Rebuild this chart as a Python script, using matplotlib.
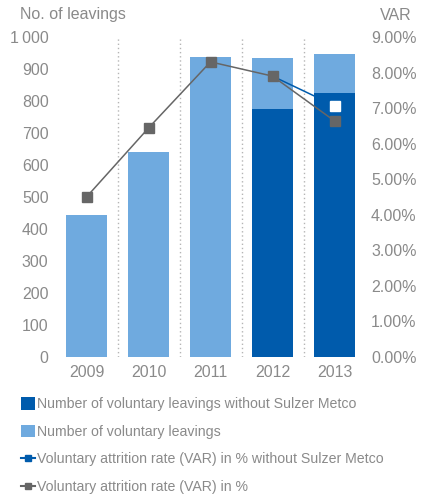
import matplotlib
matplotlib.use("Agg")
import matplotlib.pyplot as plt
import numpy as np
from matplotlib.lines import Line2D
from matplotlib.patches import Patch

years = ["2009", "2010", "2011", "2012", "2013"]
leavings_total = [444, 640, 938, 935, 947]
leavings_wo_metco = [np.nan, np.nan, np.nan, 775, 826]
var_total = [4.50, 6.44, 8.30, 7.90, 6.64]
var_wo_metco = [np.nan, np.nan, np.nan, 7.90, 7.07]
left_ticks = [0, 100, 200, 300, 400, 500, 600, 700, 800, 900, 1000]
left_labels = ["0", "100", "200", "300", "400", "500", "600", "700", "800", "900", "1\u2009000"]
right_ticks = [0, 1, 2, 3, 4, 5, 6, 7, 8, 9]
right_labels = ["0.00%", "1.00%", "2.00%", "3.00%", "4.00%", "5.00%", "6.00%", "7.00%", "8.00%", "9.00%"]
legend_labels = [
    "Number of voluntary leavings without Sulzer Metco",
    "Number of voluntary leavings",
    "Voluntary attrition rate (VAR) in % without Sulzer Metco",
    "Voluntary attrition rate (VAR) in %",
]

DARK = "#005BAC"
LIGHT = "#6FAADF"
GRAY = "#666666"
TXT = "#8a8a8a"

plt.rcParams['font.family'] = ['Liberation Sans', 'DejaVu Sans']

W, H = 433, 495
fig = plt.figure(figsize=(W / 100, H / 100), dpi=100)
ax = fig.add_axes([55.5 / W, (H - 357) / H, 310 / W, 320 / H])
ax2 = ax.twinx()

x = np.arange(len(years))
ax.bar(x, leavings_total, width=0.66, color=LIGHT, zorder=2)
ax.bar(x, leavings_wo_metco, width=0.66, color=DARK, zorder=3)
for sep in x[:-1] + 0.5:
    ax.plot([sep, sep], [0, 1000], linestyle=(0, (1, 2)), color="#b5b5b5", lw=1.0, zorder=1)

ax.set_xlim(-0.5, 4.5)
ax.set_ylim(0, 1000)
ax2.set_ylim(0, 9)
ax.set_xticks(x)
ax.set_xticklabels(years)
ax.set_yticks(left_ticks)
ax.set_yticklabels(left_labels)
ax2.set_yticks(right_ticks)
ax2.set_yticklabels(right_labels)

for a in (ax, ax2):
    for s in a.spines.values():
        s.set_visible(False)
    a.tick_params(length=0, labelsize=11.5, labelcolor=TXT)
ax.tick_params(axis='y', pad=5)
ax.tick_params(axis='x', pad=6)
ax2.tick_params(axis='y', pad=4)

ax2.plot(x, var_wo_metco, color=DARK, lw=1.1, marker='s', markersize=6.5,
         markerfacecolor='white', markeredgecolor='white', markevery=[4], zorder=4)
ax2.plot(x, var_total, color=GRAY, lw=1.1, marker='s', markersize=7.2,
         markerfacecolor=GRAY, markeredgecolor=GRAY, zorder=5)

fig.text(20 / W, 1 - 15 / H, "No. of leavings", ha='left', va='center', fontsize=11.5, color=TXT)
fig.text(396 / W, 1 - 15 / H, "VAR", ha='center', va='center', fontsize=11.5, color=TXT)

handles = [
    Patch(facecolor=DARK, edgecolor='none'),
    Patch(facecolor=LIGHT, edgecolor='none'),
    Line2D([0], [0], color=DARK, lw=1.5, marker='s', markersize=5, markerfacecolor=DARK, markeredgecolor=DARK),
    Line2D([0], [0], color=GRAY, lw=1.5, marker='s', markersize=5, markerfacecolor=GRAY, markeredgecolor=GRAY),
]
leg = fig.legend(handles, legend_labels, loc='upper left', bbox_to_anchor=(21 / W, 1 - 397 / H),
                 frameon=False, fontsize=10.2, labelcolor=TXT, handlelength=1.0, handleheight=1.0,
                 handletextpad=0.15, labelspacing=0.95, borderaxespad=0, borderpad=0)

fig.savefig("out.png", dpi=100)
